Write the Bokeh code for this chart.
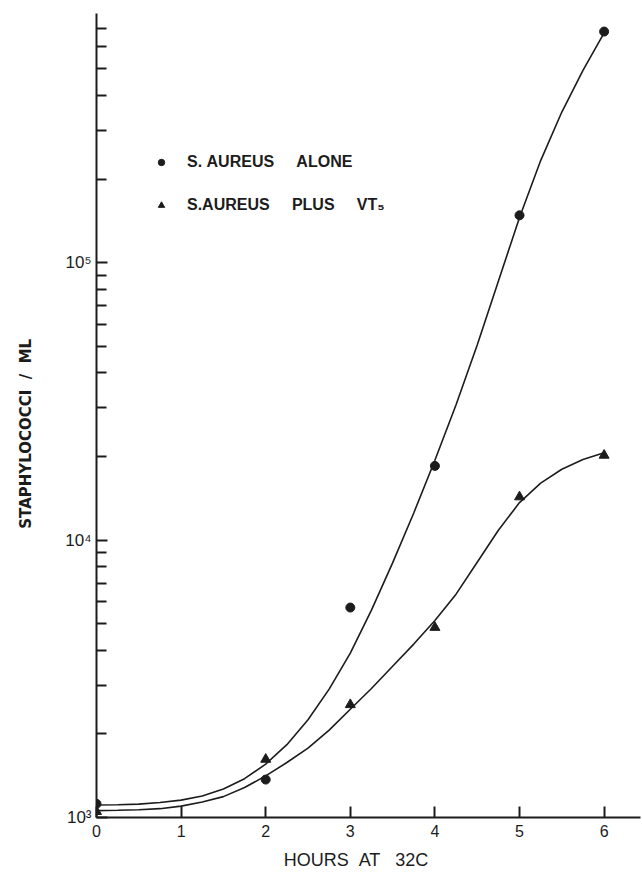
from bokeh.plotting import figure
from bokeh.models import (FixedTicker, CustomJSTickFormatter, Legend, LegendItem,
                          ColumnDataSource, Range1d)
from bokeh.embed import file_html
from bokeh.resources import INLINE

# ---- data ----
hours = [0, 2, 3, 4, 5, 6]
alone = [1120, 1370, 5710, 18500, 148000, 680000]
plus_vt5 = [1050, 1620, 2550, 4840, 14300, 20200]

# fitted (hand-drawn) curves, every quarter hour
curve_hours = [0, 0.25, 0.5, 0.75, 1, 1.25, 1.5, 1.75, 2, 2.25, 2.5, 2.75, 3,
               3.25, 3.5, 3.75, 4, 4.25, 4.5, 4.75, 5, 5.25, 5.5, 5.75, 6]
alone_curve = [1109, 1112, 1117, 1132, 1155, 1195, 1266, 1380, 1558, 1830, 2252,
               2901, 3913, 5590, 8271, 12520, 19390, 30720, 50410, 85640, 145400,
               233100, 348700, 492700, 672400]
vt5_curve = [1059, 1062, 1067, 1076, 1099, 1138, 1189, 1282, 1413, 1578, 1778,
             2065, 2455, 2917, 3508, 4217, 5129, 6383, 8318, 10840, 13650, 16030,
             17990, 19500, 20650]

x_ticks = [0, 1, 2, 3, 4, 5, 6]
y_major = [1e3, 1e4, 1e5]
y_minor = [2e3, 3e3, 4e3, 5e3, 6e3, 7e3, 8e3, 9e3,
           2e4, 3e4, 4e4, 5e4, 6e4, 7e4, 8e4, 9e4,
           2e5, 3e5, 4e5, 5e5, 6e5, 7e5]

INK = "#1c1c1c"
FONT = "Liberation Sans"
NB = "\u00a0"

p = figure(width=642, height=874, output_backend="svg", toolbar_location=None,
           y_axis_type="log",
           x_range=Range1d(0, 6.43), y_range=Range1d(1000, 7.9e5),
           min_border_left=96, min_border_right=2, min_border_top=13,
           min_border_bottom=57)
p.outline_line_color = None
p.grid.visible = False
p.background_fill_color = "white"
p.border_fill_color = "white"

# curves
p.line(curve_hours, alone_curve, line_color=INK, line_width=1.6)
p.line(curve_hours, vt5_curve, line_color=INK, line_width=1.6)

# points
src = ColumnDataSource(dict(h=hours, a=alone, v=plus_vt5))
r_c = p.scatter("h", "a", source=src, marker="circle", size=9,
                fill_color=INK, line_color=INK)
r_t = p.scatter("h", "v", source=src, marker="triangle", size=10,
                fill_color=INK, line_color=INK)

# axes
xa = p.xaxis[0]
xa.ticker = FixedTicker(ticks=x_ticks)
xa.axis_label = "HOURS" + NB * 2 + "AT" + NB * 3 + "32C" + NB * 5
xa.axis_label_text_font = FONT
xa.axis_label_text_font_size = "18px"
xa.axis_label_text_font_style = "normal"
xa.axis_label_text_color = INK
xa.axis_label_standoff = 10
xa.major_label_text_font = FONT
xa.major_label_text_font_size = "16px"
xa.major_label_text_color = INK
xa.major_label_standoff = 7
xa.major_tick_in = 11
xa.major_tick_out = 0
xa.minor_tick_line_color = None
xa.axis_line_width = 2
xa.major_tick_line_width = 2
xa.axis_line_color = INK
xa.major_tick_line_color = INK

ya = p.yaxis[0]
ya.ticker = FixedTicker(ticks=y_major, minor_ticks=y_minor)
ya.formatter = CustomJSTickFormatter(code="""
const e = Math.round(Math.log10(tick));
const sup = ['\u2070','\u00b9','\u00b2','\u00b3','\u2074','\u2075','\u2076','\u2077'];
return '10' + sup[e];
""")
ya.axis_label = "STAPHYLOCOCCI" + NB * 2 + "/" + NB * 2 + "ML" + NB * 7
ya.axis_label_text_font = "DejaVu Sans"
ya.axis_label_text_font_size = "15px"
ya.axis_label_text_font_style = "bold"
ya.axis_label_text_color = INK
ya.axis_label_standoff = 27
ya.major_label_text_font = FONT
ya.major_label_text_font_size = "17px"
ya.major_label_text_color = INK
ya.major_label_standoff = 5
ya.major_tick_in = 11
ya.major_tick_out = 0
ya.minor_tick_in = 10
ya.minor_tick_out = 0
ya.axis_line_width = 2
ya.major_tick_line_width = 2
ya.minor_tick_line_width = 2
ya.axis_line_color = INK
ya.major_tick_line_color = INK
ya.minor_tick_line_color = INK

# legend
legend = Legend(items=[
    LegendItem(label="S." + NB + "AUREUS" + NB * 5 + "ALONE", renderers=[r_c]),
    LegendItem(label="S.AUREUS" + NB * 5 + "PLUS" + NB * 5 + "VT\u2085", renderers=[r_t]),
], location=(57, 603))
legend.border_line_color = None
legend.background_fill_alpha = 0
legend.padding = 0
legend.margin = 0
legend.glyph_width = 16
legend.glyph_height = 16
legend.label_height = 16
legend.label_standoff = 18
legend.spacing = 25
legend.label_text_font = FONT
legend.label_text_font_size = "16px"
legend.label_text_font_style = "bold"
legend.label_text_color = INK
p.add_layout(legend)

open("out.html", "w").write(file_html(p, INLINE))
